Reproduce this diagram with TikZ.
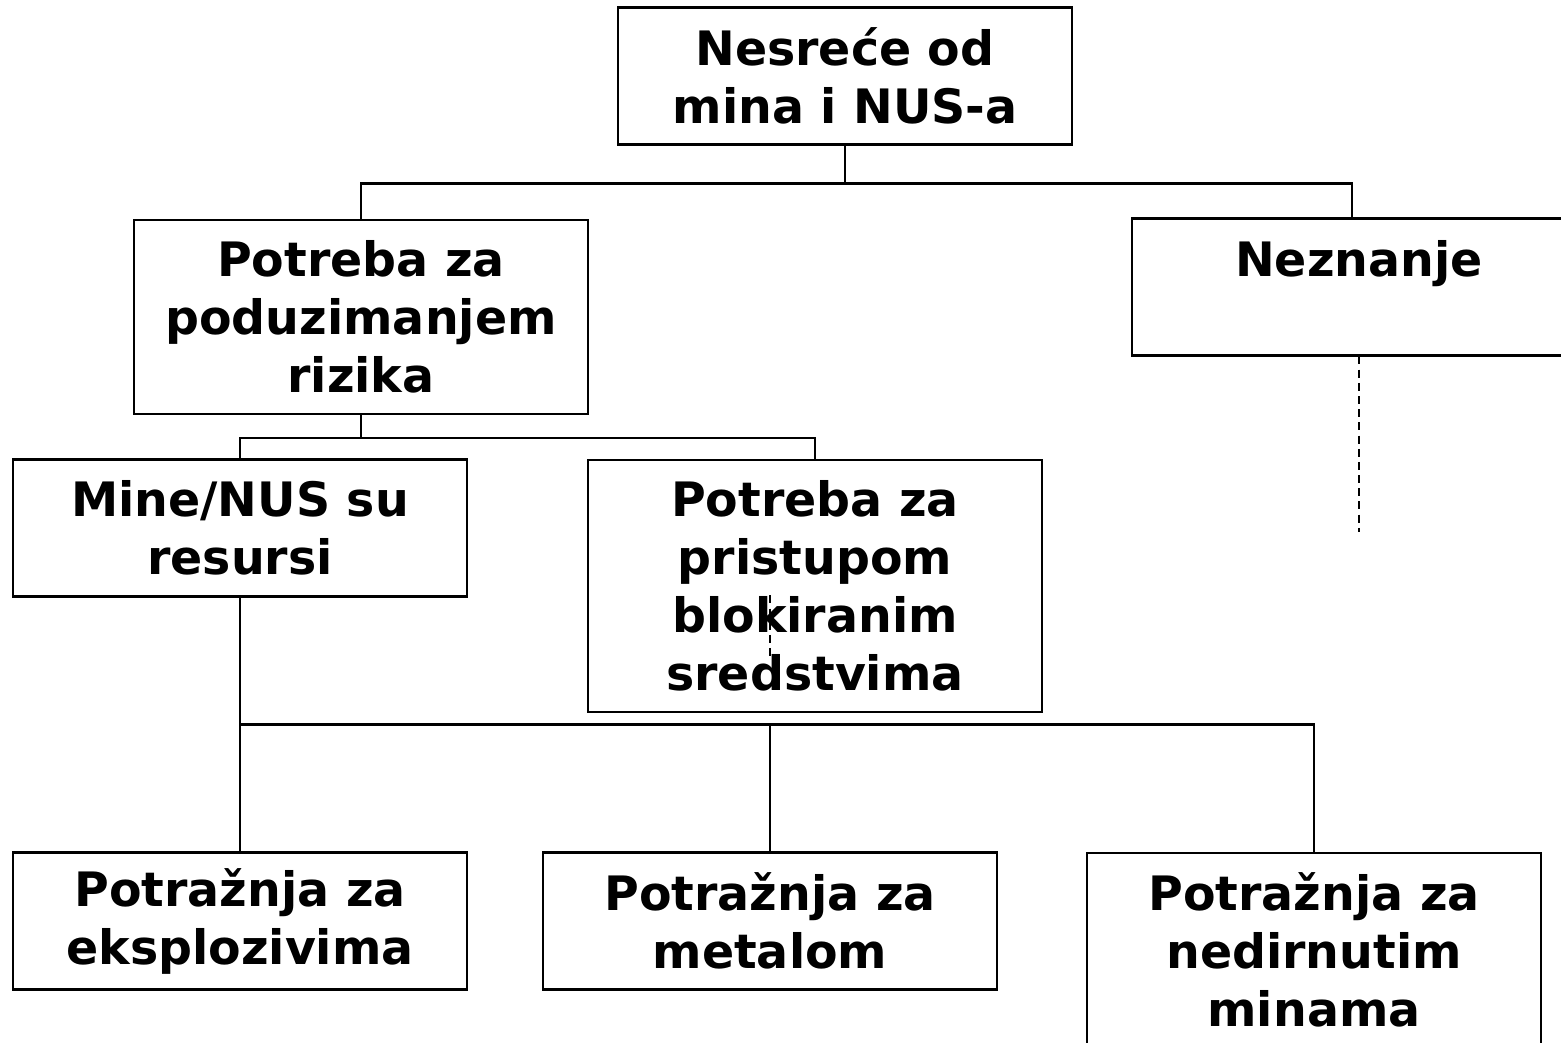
\documentclass[tikz,border=0pt]{standalone}
\usepackage{fontspec}
\setmainfont{DejaVu Sans}
\usepackage[dvipsnames]{xcolor}

\begin{document}
\begin{tikzpicture}[x=0.02cm,y=-0.02cm,-,line width=1.2pt,main node/.style={draw,rectangle,align=center,minimum width=9.08cm,minimum height=2.74cm,inner sep=2pt,font=\bfseries\fontsize{27}{33}\selectfont},tall node/.style={main node,minimum height=3.88cm},dash line/.style={dash pattern=on 4.5pt off 3pt,line width=0.8pt}]

            \useasboundingbox (0,0) rectangle (1561,1043);

            \node[main node] (1) at (845,76) {Nesreće od\\mina i NUS-a};
            \node[tall node] (2) at (361,317) {Potreba za\\poduzimanjem\\rizika};
            \node[main node] (3) at (1359,287) {Neznanje\\\mbox{}};

            \node[main node] (4) at (240,528) {Mine/NUS su\\resursi};
            \node[main node, minimum height=5.04cm] (5) at (815,586) {Potreba za\\pristupom\\blokiranim\\sredstvima};

            \node[main node] (6) at (240,921) {Potražnja za\\eksplozivima};
            \node[main node] (7) at (770,921) {Potražnja za\\metalom};
            \node[tall node] (8) at (1314,950) {Potražnja za\\nedirnutim\\minama};

            \draw[-] (1.south) -- ++(0,38) -| ([xshift=-0.14cm]3.north);
            \draw[-] (1.south) -- ++(0,38) -| (2.north);
            \draw[-] (2.south) -- ++(0,23) -| (4.north);
            \draw[-] (2.south) -- ++(0,23) -| (5.north);

            \draw[-] (4.south) -- (6.north);
            \draw[-] (4.south) -- ++(0,127) -| (7.north);
            \draw[-] (4.south) -- ++(0,127) -| (8.north);

            \draw[dash line] (3.south) -- ++(0,175);
            \draw[dash line] (7.north) ++(0,-256) -- ++(0,64);

            ;
        \end{tikzpicture}
\end{document}
